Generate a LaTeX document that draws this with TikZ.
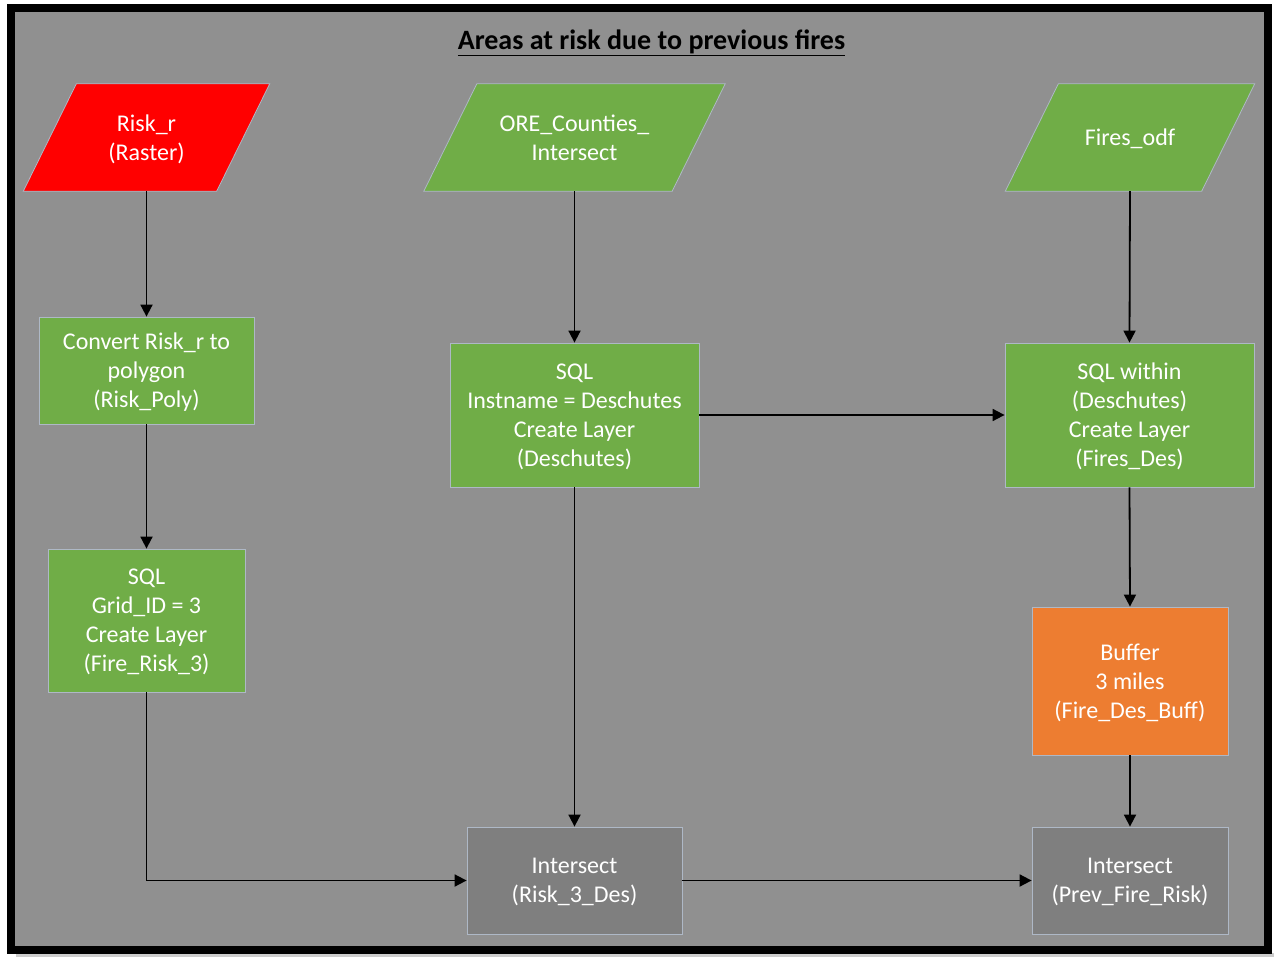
\documentclass[tikz,border=0pt]{standalone}
\usepackage{fontspec}
\setmainfont{Carlito}
\usetikzlibrary{arrows.meta,calc,backgrounds}
\definecolor{bggray}{HTML}{909090}
\definecolor{boxgreen}{HTML}{70AD47}
\definecolor{boxorange}{HTML}{ED7D31}
\definecolor{boxgray}{HTML}{7F7F7F}
\definecolor{boxred}{HTML}{FF0000}
\definecolor{edgecol}{HTML}{AEB8C6}
\begin{document}
\begin{tikzpicture}[x=1pt,y=-1pt,
  txt/.style={text=white,font=\fontsize{24}{29}\selectfont,align=center,inner sep=0pt,text depth=0pt},
  procbox/.style={txt,draw=edgecol,line width=0.8pt,minimum width=#1},
  iobox/.style={txt,minimum height=107,minimum width=#1},
  conn/.style={line width=1.8pt,-{Triangle[length=12pt,width=12pt]}}]
\useasboundingbox (0,0) rectangle (1274,957);
\node[font=\fontsize{28}{32}\selectfont\bfseries] (title) at (651.5,42.5) {\underline{Areas at risk due to previous fires}};
% input parallelograms (nodes)
\node[iobox=193] (riskr) at (146.5,137.5) {Risk\_r\\(Raster)};
\node[iobox=248] (ore) at (574.5,137.5) {ORE\_Counties\_\\Intersect};
\node[iobox=196] (fires) at (1130,137.5) {Fires\_odf};
% process boxes
\node[procbox=215,fill=boxgreen,minimum height=107] (conv) at (146.5,370.5) {Convert Risk\_r to\\polygon\\(Risk\_Poly)};
\node[procbox=197,fill=boxgreen,minimum height=143] (sqlgrid) at (146.5,620.5) {SQL\\Grid\_ID = 3\\Create Layer\\(Fire\_Risk\_3)};
\node[procbox=249,fill=boxgreen,minimum height=144] (sqlinst) at (574.5,415) {SQL\\Instname = Deschutes\\Create Layer\\(Deschutes)};
\node[procbox=249,fill=boxgreen,minimum height=144] (sqlwith) at (1129.5,415) {SQL within\\(Deschutes)\\Create Layer\\(Fires\_Des)};
\node[procbox=196,fill=boxorange,minimum height=148] (buff) at (1130,681) {Buffer\\3 miles\\(Fire\_Des\_Buff)};
\node[procbox=215,fill=boxgray,minimum height=107] (int1) at (574.5,880.5) {Intersect\\(Risk\_3\_Des)};
\node[procbox=196,fill=boxgray,minimum height=107] (int2) at (1130,880.5) {Intersect\\(Prev\_Fire\_Risk)};
\begin{scope}[on background layer]
  \fill[white] (0,0) rectangle (1274,957);
  \fill[black!20] (16,953) rectangle (1274,957);
  \draw[line width=8pt,fill=bggray] (11,8) rectangle (1267.5,949.5);
  \foreach \n/\c in {riskr/boxred,ore/boxgreen,fires/boxgreen}{
    \draw[fill=\c,draw=edgecol,line width=0.8pt]
      ($(\n.north west)+(26.5,0)$) -- ($(\n.north east)+(26.5,0)$) --
      ($(\n.south east)+(-26.5,0)$) -- ($(\n.south west)+(-26.5,0)$) -- cycle;
  }
\end{scope}
% connectors
\draw[conn] (riskr.south) -- (conv.north);
\draw[conn] (conv.south) -- (sqlgrid.north);
\draw[conn] (sqlgrid.south) |- (int1.west);
\draw[conn] (ore.south) -- (sqlinst.north);
\draw[conn] (sqlinst.south) -- (int1.north);
\draw[conn] (sqlinst.east) -- (sqlwith.west);
\draw[conn] (fires.south) -- (sqlwith.north);
\draw[conn] (sqlwith.south) -- (buff.north);
\draw[conn] (buff.south) -- (int2.north);
\draw[conn] (int1.east) -- (int2.west);
\end{tikzpicture}
\end{document}
